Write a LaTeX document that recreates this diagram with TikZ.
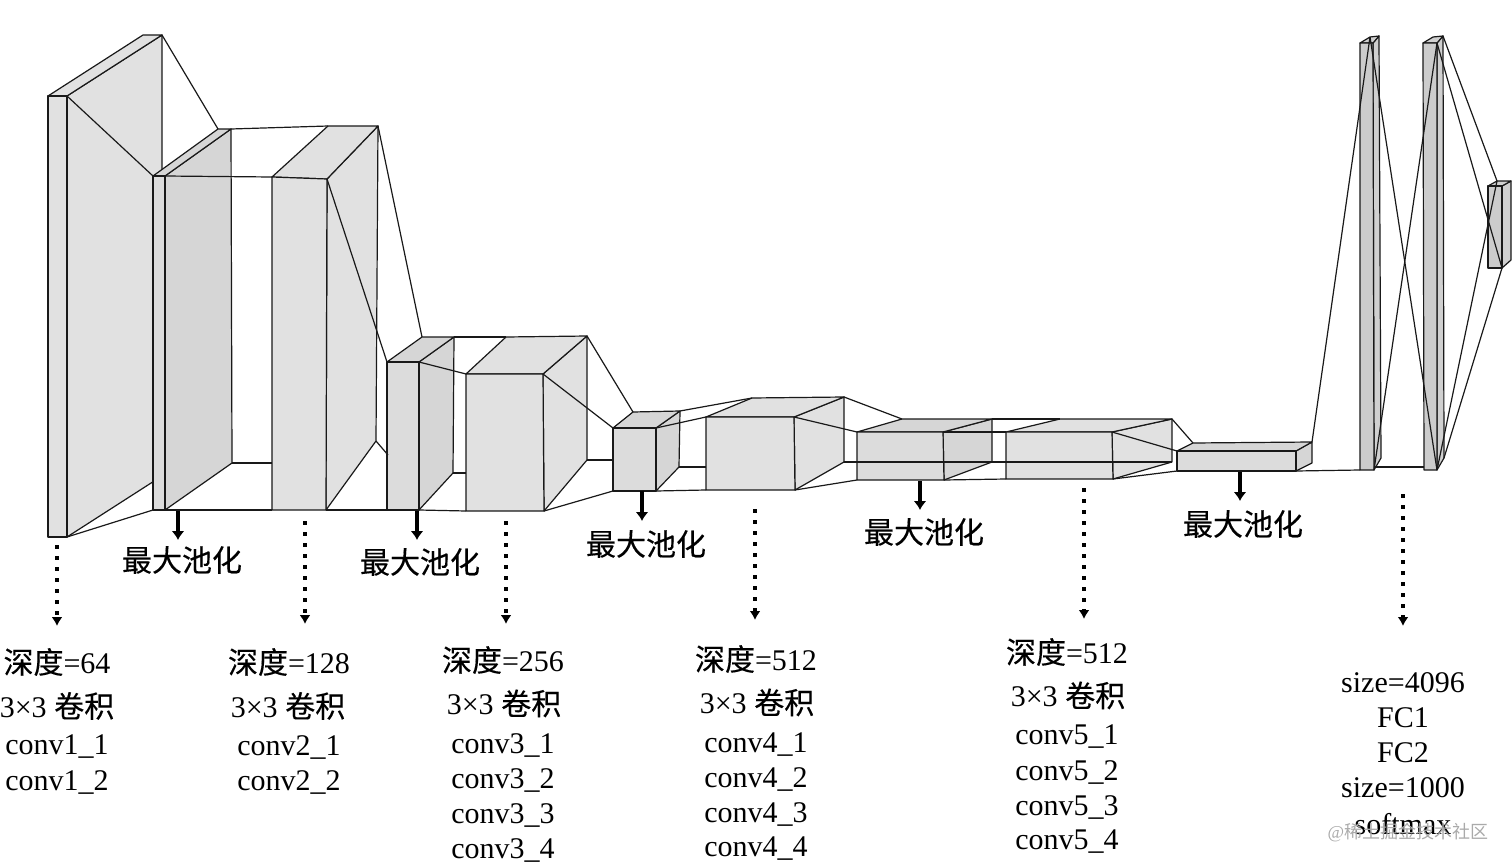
\documentclass[tikz,border=0pt]{standalone}
\usepackage{fontspec}
\setmainfont{Liberation Serif}
\newfontfamily\cjk[FakeBold=0.3]{Noto Sans CJK SC}
\usetikzlibrary{arrows.meta}

\begin{document}
\begin{tikzpicture}[x=0.5pt, y=-0.5pt, font=\fontsize{15pt}{17pt}\selectfont]

\definecolor{conv_front}{RGB}{225,225,225}
\definecolor{conv_side}{RGB}{225,225,225}
\definecolor{pool_front}{RGB}{220,220,220}
\definecolor{pool_side}{RGB}{214,214,214}
\definecolor{fc_front}{RGB}{204,204,204}
\definecolor{fc_side}{RGB}{208,208,208}
\definecolor{marktext}{RGB}{170,170,170}

\tikzset{
  edge/.style={line width=0.6pt, draw=black!90, line join=round},
  wire/.style={line width=0.6pt, draw=black!90},
  pooldrop/.style={-{Latex[length=4.5pt, width=6.5pt]}, line width=1.6pt, draw=black},
  dotdrop/.style={-{Latex[length=4.5pt, width=5.5pt]}, line width=2pt, draw=black, dash pattern=on 2pt off 3.5pt},
  lab/.style={text=black, align=center, inner sep=0pt},
}

\newcommand{\cuboid}[9]{%
  \coordinate (#1ftl) at #3;
  \coordinate (#1ftr) at #4;
  \coordinate (#1fbr) at #5;
  \coordinate (#1fbl) at #6;
  \coordinate (#1btl) at #7;
  \coordinate (#1btr) at #8;
  \coordinate (#1bbr) at #9;
  \draw[edge, fill=#2_side] (#1ftr) -- (#1btr) -- (#1bbr) -- (#1fbr) -- cycle;
  \draw[edge, fill=#2_side] (#1ftl) -- (#1btl) -- (#1btr) -- (#1ftr) -- cycle;
  \draw[edge, fill=#2_front] (#1ftl) -- (#1ftr) -- (#1fbr) -- (#1fbl) -- cycle;
}
\newcommand{\cn}[1]{{\cjk #1}}

\useasboundingbox (0,0) rectangle (1512,867);

% first block
\cuboid{ca}{conv}{(48,96)}{(67,96)}{(67,537)}{(48,537)}{(143,35)}{(162,35)}{(162,476)}
\cuboid{pa}{pool}{(153,176)}{(165,176)}{(165,510)}{(153,510)}{(218,129)}{(231,129)}{(232,463)}
\draw[wire] (caftr) -- (paftl);
\draw[wire] (cabtr) -- (pabtl);
\draw[wire] (cafbr) -- (pafbl);

% second block
\cuboid{cb}{conv}{(272,177)}{(327,179)}{(326,510)}{(272,510)}{(328,126)}{(378,126)}{(376,441)}
\draw[wire] (paftr) -- (cbftl);
\draw[wire] (pabtr) -- (cbbtl);
\draw[wire] (pabbr) -- (pabbr -| cbfbl);
\draw[wire] (pafbr) -- (cbfbl);

\cuboid{pb}{pool}{(387,362)}{(419,362)}{(419,510)}{(387,510)}{(422,337)}{(454,337)}{(453,473)}
\coordinate (cbend) at (388,455);
\draw[wire] (cbftr) -- (pbftl);
\draw[wire] (cbbtr) -- (pbbtl);
\draw[wire] (cbbbr) -- (cbend);
\draw[wire] (cbfbr) -- (pbfbl);

% third block
\cuboid{cc}{conv}{(466,374)}{(543,374)}{(544,511)}{(466,511)}{(506,337)}{(587,336)}{(587,460)}
\draw[wire] (pbftr) -- (ccftl);
\draw[wire] (pbbtr) -- (ccbtl);
\draw[wire] (pbbbr) -- (pbbbr -| ccfbl);
\draw[wire] (pbfbr) -- (ccfbl);

\cuboid{pc}{pool}{(613,428)}{(656,428)}{(656,491)}{(613,491)}{(633,412)}{(680,411)}{(679,467)}
\draw[wire] (ccftr) -- (pcftl);
\draw[wire] (ccbtr) -- (pcbtl);
\draw[wire] (ccbbr) -- (ccbbr -| pcfbl);
\draw[wire] (ccfbr) -- (pcfbl);

% fourth block
\cuboid{cd}{conv}{(706,417)}{(794,417)}{(795,490)}{(706,490)}{(752,398)}{(844,397)}{(844,462)}
\draw[wire] (pcftr) -- (cdftl);
\draw[wire] (pcbtr) -- (cdbtl);
\draw[wire] (pcbbr) -- (pcbbr -| cdfbl);
\draw[wire] (pcfbr) -- (cdfbl);

\cuboid{pd}{pool}{(857,432)}{(943,432)}{(944,480)}{(857,480)}{(902,419)}{(992,419)}{(992,462)}
\draw[wire] (cdftr) -- (pdftl);
\draw[wire] (cdbtr) -- (pdbtl);
\draw[wire] (cdfbr) -- (pdfbl);

% fifth block
\cuboid{ce}{conv}{(1006,432)}{(1112,432)}{(1113,479)}{(1006,479)}{(1060,419)}{(1172,419)}{(1172,462)}
\draw[wire] (pdftr) -- (ceftl);
\draw[wire] (pdbtr) -- (cebtl);
\draw[wire] (pdfbr) -- (cefbl);
\draw[wire] (cdbbr) -- (cebbr);

\cuboid{pe}{pool}{(1177,451)}{(1296,451)}{(1296,471)}{(1177,471)}{(1193,443)}{(1312,442)}{(1312,463)}
\draw[wire] (ceftr) -- (peftl);
\draw[wire] (cebtr) -- (pebtl);
\draw[wire] (cefbr) -- (pefbl);

% dense layers
\cuboid{fa}{fc}{(1360,43)}{(1373,43)}{(1374,470)}{(1360,470)}{(1370,37)}{(1379,36)}{(1381,458)}
\cuboid{fb}{fc}{(1423,43)}{(1437,43)}{(1437,470)}{(1424,470)}{(1433,37)}{(1443,36)}{(1444,458)}
\cuboid{sm}{fc}{(1488,186)}{(1502,186)}{(1502,268)}{(1488,268)}{(1497,181)}{(1511,181)}{(1511,260)}
\coordinate (faout) at (1375,467);
\coordinate (fbin) at (1424,467);
\draw[wire] (pebtr) -- (fabtl);
\draw[wire] (pefbr) -- (fafbl);
\draw[wire] (fabtl) -- (fbfbr);
\draw[wire] (fafbr) -- (fbftr);
\draw[wire] (faout) -- (fbin);
\draw[wire] (fbbtr) -- (smbtl);
\draw[wire] (fbftr) -- (smfbr);
\draw[wire] (fbfbr) -- (smbtl);
\draw[wire] (fbbbr) -- (smfbr);

% max pooling labels
\node[lab] (poola) at (182,560) {\cn{最大池化}};
\node[lab] (poolb) at (420,562) {\cn{最大池化}};
\node[lab] (poolc) at (646,544) {\cn{最大池化}};
\node[lab] (poold) at (924,532) {\cn{最大池化}};
\node[lab] (poole) at (1243,524) {\cn{最大池化}};

\coordinate (dropa) at (178,511); \coordinate (toa) at (178,540);
\coordinate (dropb) at (417,511); \coordinate (tob) at (417,540);
\coordinate (dropc) at (642,491); \coordinate (toc) at (642,521);
\coordinate (dropd) at (920,481); \coordinate (tod) at (920,510);
\coordinate (drope) at (1240,472); \coordinate (toe) at (1240,501);
\draw[pooldrop] (dropa) -- (toa);
\draw[pooldrop] (dropb) -- (tob);
\draw[pooldrop] (dropc) -- (toc);
\draw[pooldrop] (dropd) -- (tod);
\draw[pooldrop] (drope) -- (toe);

% first column
\node[lab] (dea) at (57,662) {\cn{深度}=64};
\node[lab] (kea) at (57,706) {3×3 \cn{卷积}};
\node[lab] (laa) at (57,747) {conv1\_1};
\node[lab] (lab) at (57,782) {conv1\_2};
\coordinate (dota) at (57,545); \coordinate (enda) at (57,626);
\draw[dotdrop] (dota) -- (enda);

% second column
\node[lab] (deb) at (289,662) {\cn{深度}=128};
\node[lab] (keb) at (288,706) {3×3 \cn{卷积}};
\node[lab] (lba) at (289,747) {conv2\_1};
\node[lab] (lbb) at (289,782) {conv2\_2};
\coordinate (dotb) at (305,521); \coordinate (endb) at (305,624);
\draw[dotdrop] (dotb) -- (endb);

% third column
\node[lab] (dec) at (503,660) {\cn{深度}=256};
\node[lab] (kec) at (504,703.5) {3×3 \cn{卷积}};
\node[lab] (lca) at (503,745) {conv3\_1};
\node[lab] (lcb) at (503,780) {conv3\_2};
\node[lab] (lcc) at (503,815) {conv3\_3};
\node[lab] (lcd) at (503,850) {conv3\_4};
\coordinate (dotc) at (506,521); \coordinate (endc) at (506,624);
\draw[dotdrop] (dotc) -- (endc);

% fourth column
\node[lab] (ded) at (756,659) {\cn{深度}=512};
\node[lab] (ked) at (757,702.5) {3×3 \cn{卷积}};
\node[lab] (lda) at (756,744.5) {conv4\_1};
\node[lab] (ldb) at (756,779) {conv4\_2};
\node[lab] (ldc) at (756,814) {conv4\_3};
\node[lab] (ldd) at (756,849) {conv4\_4};
\coordinate (dotd) at (755,509); \coordinate (endd) at (755,620);
\draw[dotdrop] (dotd) -- (endd);

% fifth column
\node[lab] (dee) at (1067,652) {\cn{深度}=512};
\node[lab] (kee) at (1068,695.5) {3×3 \cn{卷积}};
\node[lab] (lea) at (1067,737) {conv5\_1};
\node[lab] (leb) at (1067,772) {conv5\_2};
\node[lab] (lec) at (1067,807) {conv5\_3};
\node[lab] (led) at (1067,842) {conv5\_4};
\coordinate (dote) at (1084,488); \coordinate (ende) at (1084,619);
\draw[dotdrop] (dote) -- (ende);

% last column
\node[lab] (sza) at (1403,683) {size=4096};
\node[lab] (fca) at (1403,718) {FC1};
\node[lab] (fcb) at (1403,753) {FC2};
\node[lab] (szb) at (1403,788) {size=1000};
\node[lab] (sfm) at (1403,824) {softmax};
\coordinate (dotf) at (1403,494); \coordinate (endf) at (1403,626);
\draw[dotdrop] (dotf) -- (endf);

\node[lab, text=marktext, font=\fontsize{9pt}{10pt}\selectfont] (mark) at (1408,833) {@{\fontspec{Noto Sans CJK SC}稀土掘金技术社区}};

\end{tikzpicture}
\end{document}
